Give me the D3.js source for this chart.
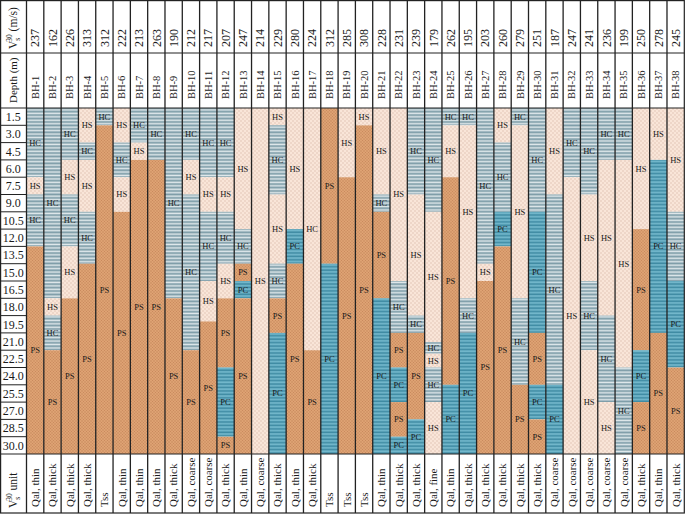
<!DOCTYPE html>
<html>
<head>
<meta charset="utf-8">
<script src="https://cdn.jsdelivr.net/npm/d3@7/dist/d3.min.js"></script>
<style>
  body { margin: 0; background: #fff; }
  text { font-family: "Liberation Serif", "Times New Roman", serif; fill: #1a1a1a; }
</style>
</head>
<body>
<div id="chart"></div>
<script>
// borehole names, Vs30 and unit per column
const boreholes = ['BH-1','BH-2','BH-3','BH-4','BH-5','BH-6','BH-7','BH-8','BH-9','BH-10',
  'BH-11','BH-12','BH-13','BH-14','BH-15','BH-16','BH-17','BH-18','BH-19','BH-20',
  'BH-21','BH-22','BH-23','BH-24','BH-25','BH-26','BH-27','BH-28','BH-29','BH-30',
  'BH-31','BH-32','BH-33','BH-34','BH-35','BH-36','BH-37','BH-38'];

const vs30 = [237,162,226,313,312,222,213,263,190,212,217,207,247,214,229,280,224,312,285,308,
  228,231,239,179,262,195,203,260,279,251,187,247,241,236,199,250,278,245];

const units = ['Qal, thin','Qal, thick','Qal, thick','Qal, thick','Tss','Qal, thin','Qal, thin',
  'Qal, thin','Qal, thick','Qal, coarse','Qal, coarse','Qal, thick','Qal, thin','Qal, coarse',
  'Qal, thick','Qal, thin','Qal, thick','Tss','Tss','Tss','Qal, thin','Qal, thick','Qal, thick',
  'Qal, fine','Qal, thin','Qal, thick','Qal, thick','Qal, thick','Qal, thick','Qal, thick',
  'Qal, coarse','Qal, coarse','Qal, coarse','Qal, coarse','Qal, coarse','Qal, thick','Qal, thin','Qal, thick'];

// each layer: [soil class, bottom depth (m)], top = previous bottom
const layers = [
  [['HC',6],['HS',7.5],['HC',12],['PS',30]],
  [['HC',16.5],['HS',18],['HC',21],['PS',30]],
  [['HC',4.5],['HS',7.5],['HC',12],['HS',16.5],['PS',30]],
  [['HS',3],['HC',4.5],['HS',9],['HC',13.5],['PS',30]],
  [['HC',1.5],['PS',30]],
  [['HS',3],['HC',6],['HS',9],['PS',30]],
  [['HC',3],['HS',4.5],['PS',30]],
  [['HC',4.5],['PS',30]],
  [['HC',16.5],['PS',30]],
  [['HC',4.5],['HS',7.5],['HC',21],['PS',30]],
  [['HC',6],['HS',9],['HC',15],['HS',18.5],['PS',30]],
  [['HC',6],['HS',9],['HC',13.5],['HS',16.5],['PS',22.5],['PC',28.5],['PS',30]],
  [['HS',10.5],['HC',13.5],['PS',15],['PC',16.5],['PS',30]],
  [['HS',30]],
  [['HS',1.5],['HC',7.5],['HS',13.5],['HC',16.5],['PS',19.5],['PC',30]],
  [['HS',10.5],['PC',13.5],['PS',30]],
  [['HS',21],['PS',30]],
  [['PS',13.5],['PC',30]],
  [['HS',6],['PS',30]],
  [['HS',1.5],['PS',30]],
  [['HS',7.5],['HC',9],['PS',16.5],['PC',30]],
  [['HS',15],['HC',19.5],['PS',22.5],['PC',25.5],['PS',28.5],['PC',30]],
  [['HC',7.5],['HS',18],['HC',19.5],['PS',27],['PC',30]],
  [['HC',9],['HS',20.3],['HC',21.3],['HS',22.5],['HC',25.5],['HS',30]],
  [['HC',1.5],['HS',6],['PS',24],['PC',30]],
  [['HC',1.5],['HS',16.5],['HC',19.5],['PC',30]],
  [['HC',13.5],['HS',15],['PS',30]],
  [['HS',3],['HC',9],['PC',12],['PS',30]],
  [['HC',1.5],['HS',16.5],['HC',24],['PS',30]],
  [['HC',9],['PC',19.5],['PS',24],['PC',27],['PS',30]],
  [['HS',7.5],['HC',24],['PC',30]],
  [['HC',6],['HS',30]],
  [['HC',7.5],['HS',15],['HC',21],['HS',30]],
  [['HC',4.5],['HS',18],['HC',25.5],['HS',30]],
  [['HC',4.5],['HS',22.5],['HC',30]],
  [['HS',10.5],['PS',21],['PC',25.5],['PS',30]],
  [['HS',4.5],['PC',19.5],['PS',30]],
  [['HS',9],['HC',15],['PC',22.5],['PS',30]]
];

// layers whose printed label differs from their fill class
const relabel = [['BH-17', 0, 'HC']];

const depthTicks = [1.5, 3.0, 4.5, 6.0, 7.5, 9.0, 10.5, 12.0, 13.5, 15.0,
  16.5, 18.0, 19.5, 21.0, 22.5, 24.0, 25.5, 27.0, 28.5, 30.0];

const W = 685, H = 514;
const left = 26.5, right = 684.3;
const rowVs = 53, rowBh = 108, rowDepthEnd = 454, bottom = 513;

const svg = d3.select('#chart').append('svg')
    .attr('width', W)
    .attr('height', H);

// fill patterns for the four soil classes
const defs = svg.append('defs');

const hc = defs.append('pattern').attr('id', 'pat-HC')
    .attr('patternUnits', 'userSpaceOnUse').attr('width', 6).attr('height', 3.45);
hc.append('rect').attr('width', 6).attr('height', 3.45).attr('fill', '#dfe8eb');
hc.append('rect').attr('y', 0.3).attr('width', 6).attr('height', 1.9).attr('fill', '#7f9ea9');

const pc = defs.append('pattern').attr('id', 'pat-PC')
    .attr('patternUnits', 'userSpaceOnUse').attr('width', 6).attr('height', 3.45);
pc.append('rect').attr('width', 6).attr('height', 3.45).attr('fill', '#72b7cb');
pc.append('rect').attr('y', 0.3).attr('width', 6).attr('height', 1.6).attr('fill', '#3f8ba3');

const hs = defs.append('pattern').attr('id', 'pat-HS')
    .attr('patternUnits', 'userSpaceOnUse').attr('width', 4).attr('height', 4);
hs.append('rect').attr('width', 4).attr('height', 4).attr('fill', '#f9e5d8');
hs.append('rect').attr('x', 0.5).attr('y', 0.5).attr('width', 1).attr('height', 1).attr('fill', '#d0ab98');
hs.append('rect').attr('x', 2.5).attr('y', 2.5).attr('width', 1).attr('height', 1).attr('fill', '#d0ab98');

const ps = defs.append('pattern').attr('id', 'pat-PS')
    .attr('patternUnits', 'userSpaceOnUse').attr('width', 3).attr('height', 3);
ps.append('rect').attr('width', 3).attr('height', 3).attr('fill', '#dea273');
ps.append('rect').attr('x', 0.5).attr('y', 0.5).attr('width', 1).attr('height', 1).attr('fill', '#b97a4f');
ps.append('rect').attr('x', 2).attr('y', 2).attr('width', 1).attr('height', 1).attr('fill', '#c98a5e');

const x = d3.scaleBand().domain(boreholes).range([left, right]);
const y = d3.scaleLinear().domain([0, 30]).range([rowBh, rowDepthEnd]);

// flatten layers into rects
const rects = [];
layers.forEach((ls, i) => {
  let top = 0;
  ls.forEach(([soil, bot], j) => {
    const r = relabel.find(d => d[0] === boreholes[i] && d[1] === j);
    rects.push({ bh: boreholes[i], soil, top, bot, label: r ? r[2] : soil });
    top = bot;
  });
});

svg.append('g').selectAll('rect')
    .data(rects)
  .enter().append('rect')
    .attr('x', d => x(d.bh))
    .attr('y', d => y(d.top))
    .attr('width', x.bandwidth())
    .attr('height', d => y(d.bot) - y(d.top))
    .attr('fill', d => `url(#pat-${d.soil})`);

svg.append('g').selectAll('text')
    .data(rects)
  .enter().append('text')
    .attr('x', d => x(d.bh) + x.bandwidth() / 2)
    .attr('y', d => y((d.top + d.bot) / 2))
    .attr('dy', '0.35em')
    .attr('text-anchor', 'middle')
    .style('font-size', '8.5px')
    .text(d => d.label);

// grid lines
const grid = svg.append('g')
    .attr('stroke', '#222')
    .attr('fill', 'none');

grid.append('rect')
    .attr('x', 0.6).attr('y', 0.6)
    .attr('width', right - 0.6).attr('height', bottom - 0.6)
    .attr('stroke-width', 1.2);

grid.selectAll('.vline')
    .data(boreholes)
  .enter().append('line')
    .attr('class', 'vline')
    .attr('x1', d => x(d)).attr('x2', d => x(d))
    .attr('y1', 0).attr('y2', bottom)
    .attr('stroke-width', 1.3);

[rowVs, rowBh, rowDepthEnd].forEach(v => {
  grid.append('line')
      .attr('x1', 0).attr('x2', right)
      .attr('y1', v).attr('y2', v)
      .attr('stroke-width', 1.2);
});

grid.selectAll('.hline')
    .data(depthTicks.slice(0, -1))
  .enter().append('line')
    .attr('class', 'hline')
    .attr('x1', 0).attr('x2', left)
    .attr('y1', d => y(d)).attr('y2', d => y(d))
    .attr('stroke-width', 1);

// depth labels
svg.append('g').selectAll('text')
    .data(depthTicks)
  .enter().append('text')
    .attr('x', left / 2)
    .attr('y', d => y(d - 0.75))
    .attr('dy', '0.36em')
    .attr('text-anchor', 'middle')
    .style('font-size', '12px')
    .text(d => d.toFixed(1));

// rotated header texts per column
const rotated = (g, data, yPos, size) => g.selectAll('text')
    .data(data)
  .enter().append('text')
    .attr('transform', (d, i) => `translate(${x(boreholes[i]) + x.bandwidth() / 2}, ${yPos}) rotate(-90)`)
    .attr('dy', '0.35em')
    .style('font-size', size)
    .text(d => d);

rotated(svg.append('g'), vs30, 47, '12px');
rotated(svg.append('g'), boreholes, 99, '10.5px');
rotated(svg.append('g'), units, 507, '11px');

// left column titles
const vsTitle = (yPos, rest) => {
  const t = svg.append('text')
      .attr('transform', `translate(${left / 2}, ${yPos}) rotate(-90)`)
      .attr('dy', '0.35em')
      .style('font-size', '11.5px');
  t.append('tspan').text('V');
  t.append('tspan').attr('dy', 3).style('font-size', '7.5px').text('s');
  t.append('tspan').attr('dx', -4).attr('dy', -8).style('font-size', '7.5px').text('30');
  t.append('tspan').attr('dy', 5).text(rest);
};
vsTitle(49, ' (m/s)');
vsTitle(508, ' unit');

svg.append('text')
    .attr('transform', `translate(${left / 2}, 103) rotate(-90)`)
    .attr('dy', '0.35em')
    .style('font-size', '11px')
    .text('Depth (m)');
</script>
</body>
</html>
